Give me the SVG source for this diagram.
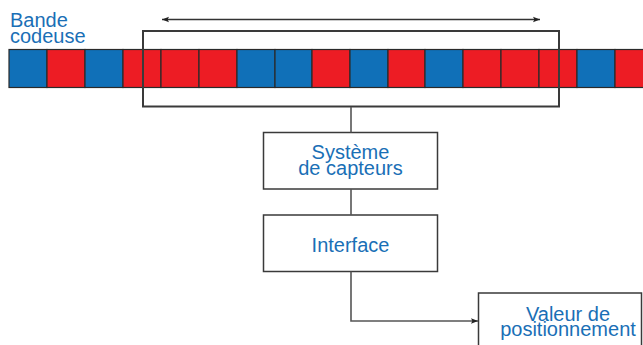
<svg xmlns="http://www.w3.org/2000/svg" width="643" height="345" viewBox="0 0 643 345">
<style>
.t{font-family:"Liberation Sans",Arial,sans-serif;font-size:20px;fill:#1a6fb6}
.b{fill:#1070b8;stroke:#2a2a2a;stroke-width:1.2}
.r{fill:#ed1c24;stroke:#2a2a2a;stroke-width:1.2}
.box{fill:#fff;stroke:#3a3a3a;stroke-width:1.5}
.ln{fill:none;stroke:#555;stroke-width:1.6}
</style>
<defs>
<marker id="ah" viewBox="0 0 10 10" refX="10" refY="5" markerWidth="7" markerHeight="7" orient="auto-start-reverse" markerUnits="userSpaceOnUse">
<path d="M0,1 L10,5 L0,9 L2,5 Z" fill="#222"/>
</marker>
</defs>
<rect width="643" height="345" fill="#fff"/>
<g id="bande">
<text class="t" x="10" y="26.5">Bande<tspan x="10" dy="16">codeuse</tspan></text>
<rect class="b" x="9" y="49.5" width="38" height="38"/>
<rect class="r" x="47" y="49.5" width="38" height="38"/>
<rect class="b" x="85" y="49.5" width="38" height="38"/>
<rect class="r" x="123" y="49.5" width="38" height="38"/>
<rect class="r" x="161" y="49.5" width="38" height="38"/>
<rect class="r" x="199" y="49.5" width="38" height="38"/>
<rect class="b" x="237" y="49.5" width="38" height="38"/>
<rect class="b" x="275" y="49.5" width="37" height="38"/>
<rect class="r" x="312" y="49.5" width="38" height="38"/>
<rect class="b" x="350" y="49.5" width="38" height="38"/>
<rect class="r" x="388" y="49.5" width="37" height="38"/>
<rect class="b" x="425" y="49.5" width="38" height="38"/>
<rect class="r" x="463" y="49.5" width="38" height="38"/>
<rect class="r" x="501" y="49.5" width="38" height="38"/>
<rect class="r" x="539" y="49.5" width="38" height="38"/>
<rect class="b" x="577" y="49.5" width="38" height="38"/>
<rect class="r" x="615" y="49.5" width="30" height="38"/>
</g>
<g id="fenetre">
<rect x="143" y="31" width="416" height="75.5" fill="none" stroke="#3a3a3a" stroke-width="2"/>
</g>
<g id="systeme">
<rect class="box" x="263.5" y="132.5" width="174" height="56.5"/>
<text class="t" x="350.5" y="159" text-anchor="middle">Système<tspan x="350.5" dy="15.5">de capteurs</tspan></text>
</g>
<g id="interface">
<rect class="box" x="263.5" y="215" width="174" height="56.5"/>
<text class="t" x="350.5" y="252" text-anchor="middle">Interface</text>
</g>
<g id="valeur">
<rect class="box" x="478.5" y="293" width="163" height="60"/>
<text class="t" x="568" y="320.5" text-anchor="middle">Valeur de<tspan x="568" dy="15.5">positionnement</tspan></text>
</g>
<g id="connecteurs">
<line x1="162" y1="19.5" x2="540" y2="19.5" stroke="#333" stroke-width="1.3" marker-start="url(#ah)" marker-end="url(#ah)"/>
<line class="ln" x1="351" y1="107" x2="351" y2="132.5"/>
<line class="ln" x1="351" y1="189" x2="351" y2="215"/>
<polyline class="ln" points="351,271.5 351,321 478,321" marker-end="url(#ah)"/>
</g>
</svg>
